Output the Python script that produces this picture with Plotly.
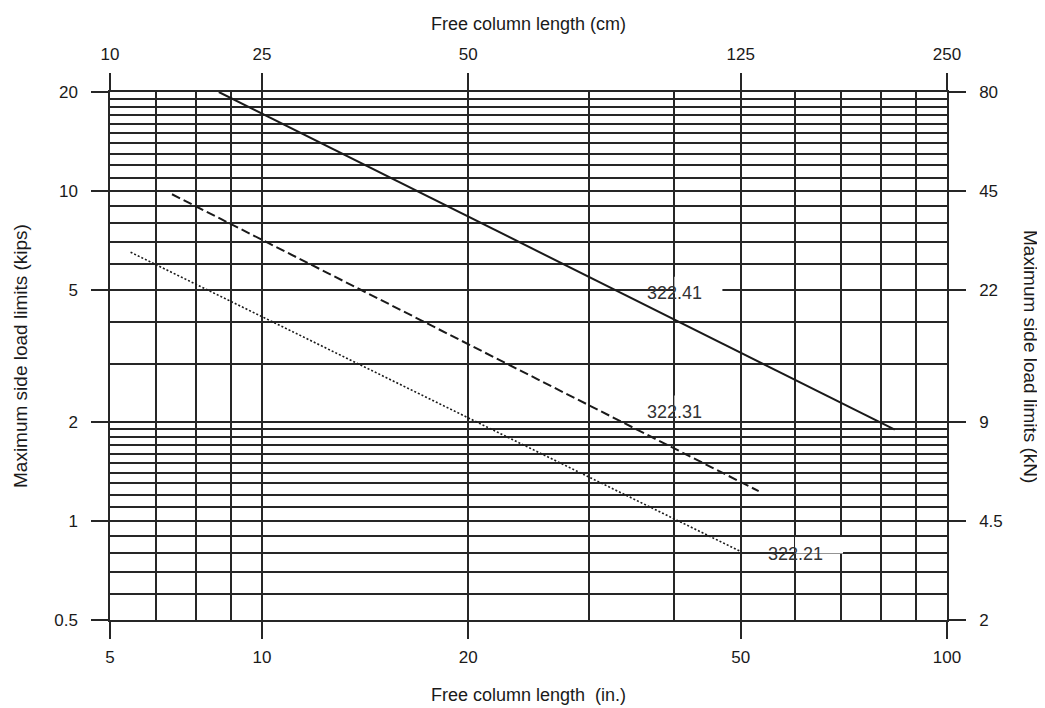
import numpy as np
import plotly.graph_objects as go

# ---- data ----
x_tickvals = [6, 10, 20, 50, 100]
x_ticktext_in = ["5", "10", "20", "50", "100"]
x_ticktext_cm = ["10", "25", "50", "125", "250"]
x_minor = [7, 8, 9, 30, 40, 60, 70, 80, 90]

y_tickvals = [0.5, 1, 2, 5, 10, 20]
y_ticktext_kips = ["0.5", "1", "2", "5", "10", "20"]
y_ticktext_kn = ["2", "4.5", "9", "22", "45", "80"]
y_minor = [0.6, 0.7, 0.8, 0.9, 1.1, 1.2, 1.3, 1.4, 1.5, 1.6, 1.7, 1.8, 1.9,
           3, 4, 6, 7, 8, 9, 11, 12, 13, 14, 15, 16, 17, 18, 19]

series_names = ["322.41", "322.31", "322.21"]
series_x = [[8.65, 83.9], [7.39, 53.1], [6.43, 50.1]]
series_y = [[20.0, 1.89], [9.79, 1.23], [6.53, 0.805]]
series_dash = ["solid", "9px,4px", "2px,2px"]
series_width = [2.0, 2.0, 1.6]

label_x = [40, 40, 60]
label_y = [4.9, 2.14, 0.795]

FONT = "Liberation Sans, Arial, sans-serif"
GRID = "#262626"
INK = "#1a1a1a"
GW = 1.5

fig = go.Figure()
for name, xs, ys, dash, w in zip(series_names, series_x, series_y, series_dash, series_width):
    fig.add_trace(go.Scatter(x=xs, y=ys, mode="lines", name=name,
                             line=dict(color=INK, width=w, dash=dash),
                             hoverinfo="skip", showlegend=False))
# invisible trace to establish the secondary axes
fig.add_trace(go.Scatter(x=[x_tickvals[0]], y=[y_tickvals[0]], xaxis="x2", yaxis="y2",
                         mode="markers", marker=dict(opacity=0), hoverinfo="skip",
                         showlegend=False))

axis_common = dict(showline=True, linecolor=GRID, linewidth=GW,
                   ticks="outside", ticklen=17, tickwidth=GW, tickcolor=GRID,
                   tickfont=dict(family=FONT, size=17, color=INK), zeroline=False)

fig.update_layout(
    width=1037, height=700,
    margin=dict(l=102, r=98, t=84, b=88),
    paper_bgcolor="white", plot_bgcolor="white",
    xaxis=dict(type="log", range=[np.log10(6), 2], tickmode="array",
               tickvals=x_tickvals, ticktext=x_ticktext_in,
               showgrid=True, gridcolor=GRID, gridwidth=GW,
               minor=dict(tickmode="array", tickvals=x_minor, showgrid=True,
                          gridcolor=GRID, gridwidth=GW, ticks=""),
               ticklabelstandoff=4, **axis_common),
    xaxis2=dict(type="log", range=[np.log10(6), 2], overlaying="x", side="top",
                tickmode="array", tickvals=x_tickvals, ticktext=x_ticktext_cm,
                showgrid=False, ticklabelstandoff=6, **axis_common),
    yaxis=dict(type="log", range=[np.log10(0.5), np.log10(20)], tickmode="array",
               tickvals=y_tickvals, ticktext=y_ticktext_kips,
               showgrid=True, gridcolor=GRID, gridwidth=GW,
               minor=dict(tickmode="array", tickvals=y_minor, showgrid=True,
                          gridcolor=GRID, gridwidth=GW, ticks=""),
               ticklabelstandoff=10, **axis_common),
    yaxis2=dict(type="log", range=[np.log10(0.5), np.log10(20)], overlaying="y",
                side="right", tickmode="array", tickvals=y_tickvals,
                ticktext=y_ticktext_kn, showgrid=False, ticklabelstandoff=10,
                **axis_common),
)

# white boxes behind the curve labels (hide gridlines, not the curves)
for lx, ly in zip(label_x, label_y):
    fig.add_shape(type="rect", xref="x", yref="y", xsizemode="pixel", ysizemode="pixel",
                  xanchor=lx, yanchor=ly, x0=-48, x1=48, y0=-16.5, y1=16.5,
                  fillcolor="white", line=dict(width=0), layer="between")

for name, lx, ly in zip(series_names, label_x, label_y):
    fig.add_annotation(x=np.log10(lx), y=np.log10(ly), xref="x", yref="y", text=name,
                       showarrow=False, xanchor="center", yanchor="middle",
                       font=dict(family=FONT, size=18, color="#333"))

title_font = dict(family=FONT, size=18, color=INK)
side_font = dict(family=FONT, size=19, color=INK)
fig.add_annotation(text="Free column length (cm)", xref="paper", yref="paper",
                   x=0.5, y=1, yshift=68, xanchor="center", yanchor="middle",
                   showarrow=False, font=title_font)
fig.add_annotation(text="Free column length  (in.)", xref="paper", yref="paper",
                   x=0.5, y=0, yshift=-75, xanchor="center", yanchor="middle",
                   showarrow=False, font=title_font)
fig.add_annotation(text="Maximum side load limits (kips)", xref="paper", yref="paper",
                   x=0, y=0.5, xshift=-90, textangle=-90, xanchor="center",
                   yanchor="middle", showarrow=False, font=side_font)
fig.add_annotation(text="Maximum side load limits (kN)", xref="paper", yref="paper",
                   x=1, y=0.5, xshift=84, textangle=90, xanchor="center",
                   yanchor="middle", showarrow=False, font=side_font)

fig.write_html("out.html", config={"displayModeBar": False})
